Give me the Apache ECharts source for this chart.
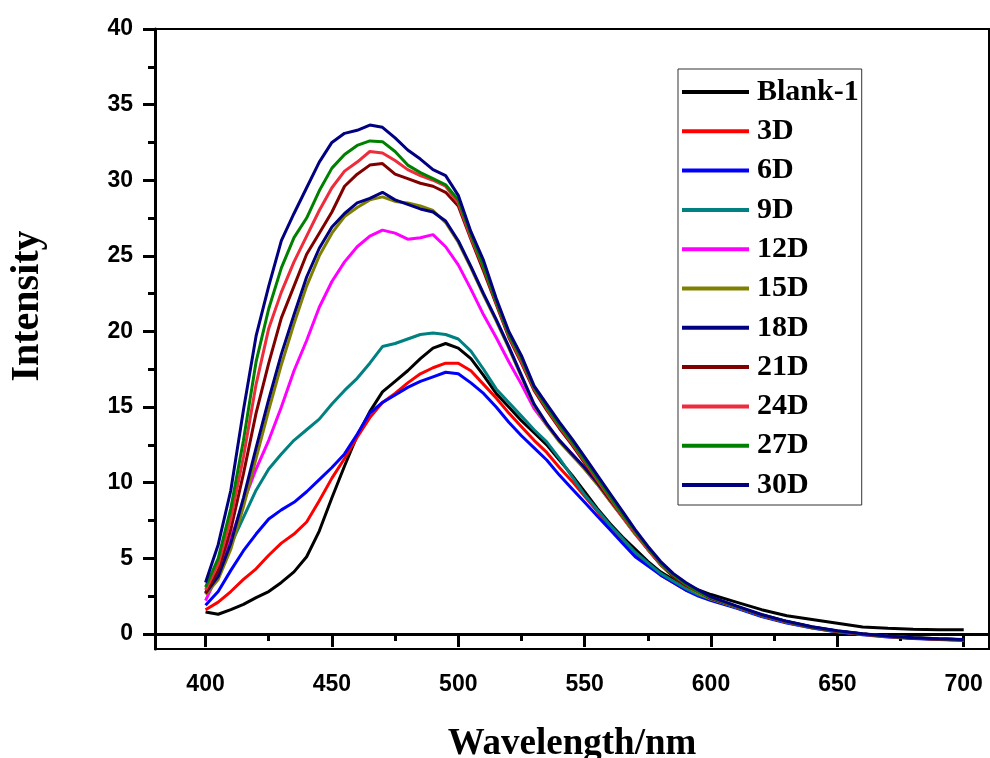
<!DOCTYPE html>
<html><head><meta charset="utf-8">
<script src="https://cdn.jsdelivr.net/npm/echarts@6/dist/echarts.min.js"></script>
<style>html,body{margin:0;padding:0;background:#fff}#c{width:990px;height:758px}</style>
</head><body><div id="c"></div>
<script>
const wavelength = [400,405,410,415,420,425,430,435,440,445,450,455,460,465,470,475,480,485,490,495,500,505,510,515,520,525,530,535,540,545,550,555,560,565,570,575,580,585,590,595,600,610,620,630,640,650,660,670,680,690,700];
const seriesNames = ['Blank-1','3D','6D','9D','12D','15D','18D','21D','24D','27D','30D'];
const blank1 = [1.45,1.3,1.6,1.95,2.4,2.8,3.4,4.1,5.1,6.8, 9.0,11.1,13.1,14.7,16.0,16.7,17.4,18.2,18.9,19.2, 18.9,18.2,17.1,15.9,15.0,14.1,13.3,12.5,11.5,10.5, 9.4,8.3,7.3,6.4,5.6,4.8,4.1,3.6,3.2,2.9, 2.6, 2.1,1.6,1.2,0.95,0.7,0.45,0.37,0.3,0.28,0.28];
const d3 = [1.6,2.1,2.8,3.6,4.3,5.2,6.0,6.6,7.4,8.8, 10.3,11.6,13.0,14.3,15.3,15.9,16.6,17.2,17.6,17.9, 17.9,17.4,16.5,15.6,14.6,13.7,12.8,12.0,11.0,10.1, 9.1,8.1,7.1,6.2,5.3,4.6,3.9,3.4,2.9,2.6, 2.3, 1.75,1.2,0.78,0.42,0.16,-0.02,-0.17,-0.28,-0.35,-0.4];
const d6 = [1.9,2.8,4.2,5.5,6.6,7.6,8.2,8.7,9.4,10.2, 11.0,11.9,13.2,14.6,15.3,15.8,16.3,16.7,17.0,17.3, 17.2,16.6,15.9,15.0,14.0,13.1,12.3,11.5,10.5,9.6, 8.7,7.8,6.9,6.0,5.1,4.5,3.9,3.4,2.9,2.5, 2.2, 1.7,1.15,0.72,0.38,0.12,-0.05,-0.2,-0.3,-0.37,-0.42];
const d9 = [2.7,3.9,5.9,7.7,9.5,10.9,11.9,12.8,13.5,14.2, 15.2,16.1,16.9,17.9,19.0,19.2,19.5,19.8,19.9,19.8, 19.5,18.7,17.5,16.2,15.3,14.4,13.5,12.7,11.6,10.4, 9.2,8.2,7.2,6.3,5.4,4.7,4.0,3.5,3.0,2.6, 2.3, 1.75,1.2,0.76,0.4,0.14,-0.03,-0.18,-0.29,-0.36,-0.4];
const d12 = [2.2,4.0,6.3,8.7,10.9,12.8,15.0,17.4,19.4,21.6, 23.3,24.6,25.6,26.3,26.7,26.5,26.1,26.2,26.4,25.6, 24.4,22.8,21.1,19.6,18.0,16.5,14.9,13.8,12.8,11.9, 10.9,9.9,8.8,7.7,6.6,5.6,4.6,3.9,3.3,2.8, 2.35, 1.8,1.22,0.78,0.43,0.16,-0.02,-0.17,-0.28,-0.35,-0.4];
const d15 = [2.6,3.6,5.6,8.4,11.6,14.8,17.8,20.5,23.0,25.0, 26.5,27.6,28.2,28.7,28.9,28.6,28.5,28.3,28.0,27.2, 25.9,24.2,22.4,20.7,18.9,17.0,15.1,13.8,12.7,11.8, 10.9,9.9,8.8,7.7,6.6,5.6,4.6,3.8,3.2,2.7, 2.3, 1.78,1.22,0.78,0.42,0.16,-0.02,-0.17,-0.28,-0.35,-0.4];
const d18 = [2.7,3.8,6.0,9.0,12.3,15.5,18.5,21.1,23.6,25.5, 26.9,27.8,28.5,28.8,29.2,28.7,28.4,28.1,27.9,27.3, 26.0,24.3,22.5,20.8,19.0,17.1,15.2,13.9,12.8,11.9, 11.0,10.0,8.9,7.8,6.7,5.7,4.7,3.9,3.3,2.8, 2.35, 1.8,1.23,0.8,0.44,0.17,-0.01,-0.16,-0.27,-0.34,-0.39];
const d21 = [2.7,4.2,6.9,10.6,14.6,17.9,20.9,23.0,25.1,26.5, 27.9,29.6,30.4,31.0,31.1,30.4,30.1,29.8,29.6,29.2, 28.3,26.1,24.0,21.8,19.6,17.9,16.1,14.8,13.6,12.5, 11.3,10.1,8.9,7.8,6.7,5.6,4.6,3.8,3.2,2.8, 2.35, 1.8,1.24,0.8,0.44,0.17,-0.01,-0.16,-0.27,-0.34,-0.39];
const d24 = [2.9,4.6,7.6,11.7,16.5,20.2,22.6,24.6,26.3,28.0, 29.5,30.6,31.2,31.9,31.8,31.3,30.7,30.3,30.0,29.6, 28.5,26.2,24.2,21.9,19.7,18.0,16.2,14.9,13.7,12.6, 11.4,10.2,9.0,7.8,6.7,5.6,4.6,3.9,3.3,2.8, 2.4, 1.8,1.25,0.8,0.45,0.18,0.0,-0.15,-0.26,-0.33,-0.38];
const d27 = [3.1,5.0,8.3,12.8,18.0,21.5,24.2,26.2,27.5,29.3, 30.8,31.7,32.3,32.6,32.55,31.9,31.0,30.5,30.1,29.7, 28.7,26.4,24.3,22.0,19.8,18.2,16.3,15.0,13.8,12.7, 11.5,10.3,9.1,7.9,6.8,5.7,4.7,3.9,3.3,2.8, 2.4, 1.82,1.26,0.82,0.46,0.19,0.0,-0.15,-0.26,-0.33,-0.38];
const d30 = [3.4,5.9,9.5,14.8,19.7,23.0,26.0,27.8,29.5,31.2, 32.5,33.1,33.3,33.65,33.5,32.8,32.0,31.4,30.7,30.3, 29.0,26.6,24.7,22.2,20.0,18.4,16.4,15.2,14.0,12.9, 11.7,10.5,9.3,8.1,6.9,5.8,4.8,4.0,3.4,2.9, 2.45, 1.85,1.28,0.83,0.47,0.2,0.01,-0.14,-0.25,-0.32,-0.37];
const xMajorTicks = [400,450,500,550,600,650,700];
const xMinorTicks = [425,475,525,575,625,675];
const yMajorTicks = [0,5,10,15,20,25,30,35,40];
const yMinorTicks = [2.5,7.5,12.5,17.5,22.5,27.5,32.5,37.5];

const allData = [blank1,d3,d6,d9,d12,d15,d18,d21,d24,d27,d30];
const colors = ['#000000','#FF0000','#0000FF','#008080','#FF00FF','#808000','#000080','#800000','#EE2C3C','#008000','#000080'];

const chart = echarts.init(document.getElementById('c'), null, {renderer:'canvas'});
const labelFont = {fontFamily:'Liberation Sans', fontWeight:'bold', fontSize:23, color:'#000'};
const option = {
  animation:false,
  backgroundColor:'#fff',
  grid:{left:155, right:1, top:29, bottom:109, show:true, borderColor:'#000', borderWidth:2, containLabel:false, outerBoundsMode:'none'},
  legend:{
    orient:'vertical', left:678, top:69, padding:[8,3,5,4], itemGap:9.3,
    itemWidth:67, itemHeight:4, icon:'rect',
    borderColor:'#333', borderWidth:1,
    textStyle:{fontFamily:'Liberation Serif', fontWeight:'bold', fontSize:30, lineHeight:30, color:'#000', padding:[0,0,0,3]},
    data:seriesNames
  },
  xAxis:[{
    type:'value', min:380, max:710, position:'bottom',
    name:'Wavelength/nm', nameLocation:'middle', nameGap:77,
    nameTextStyle:{fontFamily:'Liberation Serif', fontWeight:'bold', fontSize:37, color:'#000'},
    axisLine:{show:true, lineStyle:{color:'#000', width:3}},
    axisTick:{show:true, inside:false, length:13, lineStyle:{color:'#000', width:3}, customValues:xMajorTicks},
    axisLabel:{...labelFont, margin:24, customValues:xMajorTicks},
    splitLine:{show:false}
  },{
    type:'value', min:380, max:710, position:'bottom', gridIndex:0,
    axisLine:{show:false},
    axisTick:{show:true, inside:false, length:7, lineStyle:{color:'#000', width:3}, customValues:xMinorTicks},
    axisLabel:{show:false}, splitLine:{show:false}
  }],
  yAxis:[{
    type:'value', min:-1, max:40, position:'left',
    name:'Intensity', nameLocation:'middle', nameGap:107, nameRotate:90,
    nameTextStyle:{fontFamily:'Liberation Serif', fontWeight:'bold', fontSize:40, color:'#000', padding:[0,0,0,66]},
    axisLine:{show:true, lineStyle:{color:'#000', width:3}},
    axisTick:{show:true, inside:false, length:12, lineStyle:{color:'#000', width:3}, customValues:yMajorTicks},
    axisLabel:{...labelFont, margin:22, customValues:yMajorTicks},
    splitLine:{show:false}
  },{
    type:'value', min:-1, max:40, position:'left', gridIndex:0,
    axisLine:{show:false},
    axisTick:{show:true, inside:false, length:7, lineStyle:{color:'#000', width:3}, customValues:yMinorTicks},
    axisLabel:{show:false}, splitLine:{show:false}
  }],
  series: seriesNames.map((n,k)=>({
    name:n, type:'line', xAxisIndex:0, yAxisIndex:0,
    symbol:'none', showSymbol:false, smooth:false,
    color:colors[k],
    lineStyle:{width:3, color:colors[k]},
    data: wavelength.map((x,i)=>[x, allData[k][i]])
  }))
};
chart.setOption(option);
</script></body></html>
